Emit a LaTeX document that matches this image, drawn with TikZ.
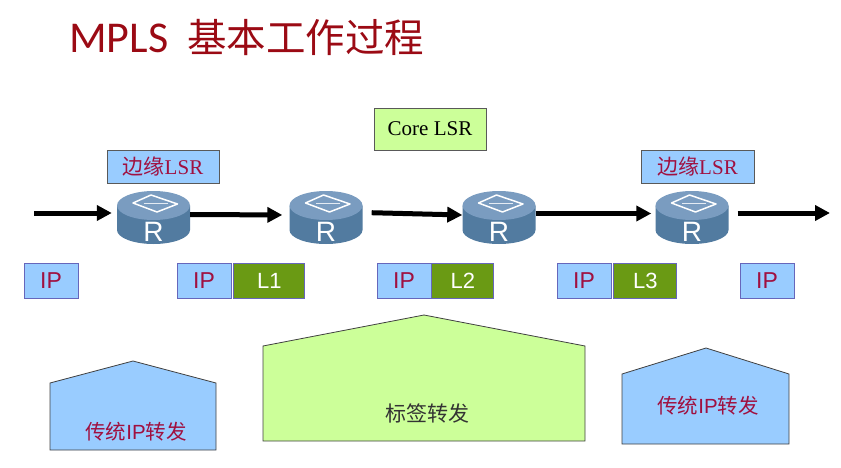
\documentclass[tikz,border=0pt]{standalone}
\usepackage{fontspec}
\setmainfont{Liberation Sans}
\newfontfamily\cjk{Noto Sans CJK SC}
\newfontfamily\titlefont{Carlito}
\newfontfamily\timesfont{Liberation Serif}
\usetikzlibrary{arrows.meta,positioning}
\definecolor{skyblue}{HTML}{99CCFF}
\definecolor{palegreen}{HTML}{CCFF99}
\definecolor{labelgreen}{HTML}{6A9A14}
\definecolor{wine}{HTML}{A01040}
\definecolor{titlered}{HTML}{9B0A14}
\definecolor{routertop}{HTML}{7A9CC0}
\definecolor{routerside}{HTML}{527BA0}
\definecolor{boxline}{HTML}{6666BB}
\tikzset{post/.style={-{Triangle[length=15pt,width=15pt]},line width=5pt,black}}
\tikzset{router/.style={minimum width=73pt,minimum height=53pt,inner sep=0pt}}
\tikzset{tag/.style={draw=gray!70!black,line width=0.9pt,inner sep=0pt}}
\tikzset{iplabel/.style={draw=boxline,line width=0.8pt,fill=skyblue,text=wine,font=\fontsize{23}{26}\selectfont,
  minimum width=54pt,minimum height=35pt,inner sep=0pt}}
\tikzset{labelbox/.style={draw=boxline,line width=0.8pt,fill=labelgreen,text=white,font=\fontsize{22}{26}\selectfont,
  minimum height=35pt,inner sep=0pt}}
\tikzset{roof/.style={draw=black!75,line width=0.8pt}}
\begin{document}
\begin{tikzpicture}[x=1pt,y=-1pt]
  \useasboundingbox (0,0) rectangle (841,468);
  \node (title) [anchor=west,text=titlered,inner sep=0pt] at (69,37)
    {\fontsize{44}{50}\selectfont\titlefont MPLS\hspace{19pt}\fontsize{39.5}{50}\selectfont\cjk 基本工作过程};

  % routers
  \foreach \name/\x in {R1/153.5,R2/326,R3/499,R4/692}{
    \fill[routerside] (\x-36.5,205.5) -- (\x-36.5,230) arc[start angle=180,end angle=0,x radius=36.5,y radius=14]
      -- (\x+36.5,205.5) -- cycle;
    \fill[routertop] (\x,205.5) ellipse [x radius=36.5,y radius=14.5];
    \draw[white,line width=1.5pt,line join=round] (\x-20.5,203) -- (\x-2.5,195) -- (\x+24,204) -- (\x+3.5,212) -- cycle;
    \draw[white!80!routertop,line width=0.7pt] (\x-10,203.5) -- (\x+14,203.5);
    \node (\name) [router] at (\x,217.5) {};
    \node (\name t) [text=white,font=\fontsize{28}{30}\selectfont,inner sep=0pt] at (\x,232) {R};
  }

  % boxes above
  \node (E1) [tag,fill=skyblue,minimum width=112pt,minimum height=33pt] at (163,166.5)
    {\fontsize{21}{24}\selectfont\color{wine}\cjk 边缘\timesfont LSR};
  \node (E2) [tag,fill=skyblue,minimum width=113pt,minimum height=33pt] at (697.5,166.5)
    {\fontsize{21}{24}\selectfont\color{wine}\cjk 边缘\timesfont LSR};
  \node (core) [tag,fill=palegreen,minimum width=112pt,minimum height=42pt] at (430,129)
    {\fontsize{21}{24}\selectfont\timesfont Core LSR};

  % arrows
  \coordinate (in) at (34,213);
  \coordinate (out) at (830,213);
  \draw[post,shorten >=5pt] (in) -- (R1.west |- in);
  \draw[post,shorten >=7pt] (R1.east |- 0,214.5) -- (R2.west |- 0,215);
  \draw[post,shorten <=9pt] (R2.east |- 0,212.5) -- (R3.west |- 0,215);
  \draw[post,shorten >=4pt] (R3.east |- 0,213.5) -- (R4.west |- 0,213.5);
  \draw[post,shorten <=9pt] (R4.east |- out) -- (out);

  % packets
  \node (ip0) [iplabel] at (51,280.5) {IP};
  \node (ip1) [iplabel] at (204,280.5) {IP};
  \node (L1) [labelbox,minimum width=71pt,right=2pt of ip1] {L1};
  \node (ip2) [iplabel] at (404,280.5) {IP};
  \node (L2) [labelbox,minimum width=62pt,right=0pt of ip2] {L2};
  \node (ip3) [iplabel] at (584,280.5) {IP};
  \node (L3) [labelbox,minimum width=63pt,right=2pt of ip3] {L3};
  \node (ip4) [iplabel] at (767,280.5) {IP};

  % regions
  \draw[roof,fill=skyblue] (50,383) -- (133,361) -- (216,383) -- (216,450) -- (50,450) -- cycle;
  \draw[roof,fill=palegreen] (263,346) -- (424,315) -- (585,346) -- (585,441) -- (263,441) -- cycle;
  \draw[roof,fill=skyblue] (622,374) -- (706,348) -- (789,374) -- (789,444) -- (622,444) -- cycle;
  \node (trad1) [text=wine,font=\fontsize{20.5}{24}\selectfont] at (136,432) {\cjk 传统\rmfamily IP\cjk 转发};
  \node (lab) [text=black!80,font=\fontsize{21}{24}\selectfont] at (427,413) {\cjk 标签转发};
  \node (trad2) [text=wine,font=\fontsize{20.5}{24}\selectfont] at (708,406) {\cjk 传统\rmfamily IP\cjk 转发};
\end{tikzpicture}
\end{document}
